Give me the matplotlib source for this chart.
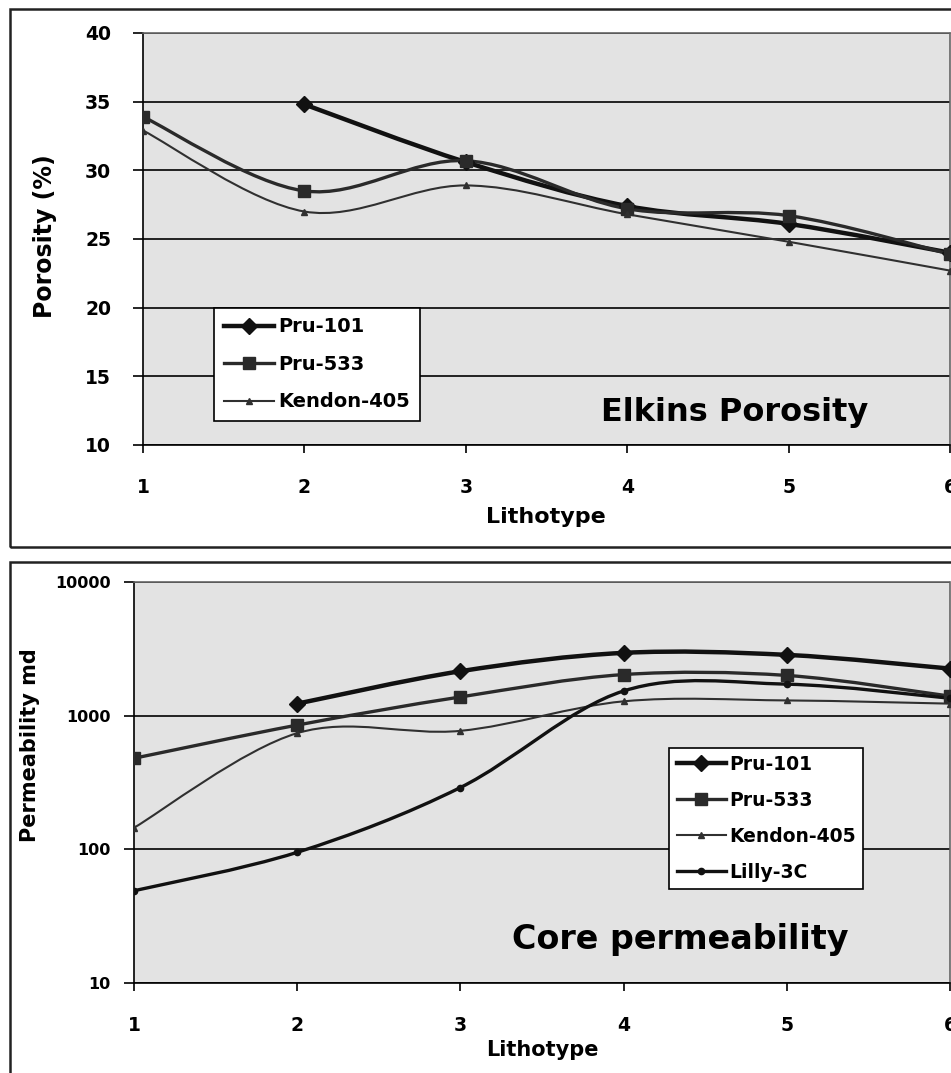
import numpy as np
import matplotlib
matplotlib.use("Agg")
import matplotlib.pyplot as plt
from matplotlib.path import Path
from matplotlib.patches import PathPatch, Rectangle
from matplotlib.lines import Line2D

plt.rcParams['font.family'] = ['DejaVu Sans']
plt.rcParams['font.weight'] = 'bold'

# ---------------- data ----------------
lithotype = [1, 2, 3, 4, 5, 6]

por_pru101_x = [2, 3, 4, 5, 6]
por_pru101 = [34.8, 30.6, 27.4, 26.1, 24.0]
por_pru533_x = [1, 2, 3, 4, 5, 6]
por_pru533 = [33.9, 28.5, 30.7, 27.2, 26.7, 23.9]
por_kendon_x = [1, 2, 3, 4, 5, 6]
por_kendon = [32.9, 27.0, 28.9, 26.8, 24.8, 22.7]

perm_pru101_x = [2, 3, 4, 5, 6]
perm_pru101 = [1230, 2150, 2950, 2850, 2250]
perm_pru533_x = [1, 2, 3, 4, 5, 6]
perm_pru533 = [480, 850, 1380, 2030, 2000, 1400]
perm_kendon_x = [1, 2, 3, 4, 5, 6]
perm_kendon = [145, 740, 770, 1280, 1300, 1230]
perm_lilly_x = [1, 2, 3, 4, 5, 6]
perm_lilly = [49, 95, 290, 1530, 1720, 1350]

por_ticks = [10, 15, 20, 25, 30, 35, 40]
perm_ticks = [10, 100, 1000, 10000]
perm_ticklabels = ["10", "100", "1000", "10000"]

W, H = 951, 1073
fig = plt.figure(figsize=(W / 100, H / 100), dpi=100)


def smooth_path(xs, ys, log=False):
    x = np.asarray(xs, float)
    y = np.asarray(ys, float)
    if log:
        y = np.log10(y)
    pts = np.column_stack([x, y])
    n = len(pts)
    verts = [pts[0]]
    codes = [Path.MOVETO]
    for i in range(n - 1):
        p0 = pts[i - 1] if i > 0 else pts[i]
        p1 = pts[i]
        p2 = pts[i + 1]
        p3 = pts[i + 2] if i + 2 < n else pts[i + 1]
        c1 = p1 + (p2 - p0) / 6.0
        c2 = p2 - (p3 - p1) / 6.0
        verts += [c1, c2, p2]
        codes += [Path.CURVE4] * 3
    verts = np.array(verts)
    if log:
        verts[:, 1] = 10 ** verts[:, 1]
    return Path(verts, codes)


def draw_series(ax, xs, ys, style, log=False):
    ax.add_patch(PathPatch(smooth_path(xs, ys, log), fill=False,
                           edgecolor=style['color'], lw=style['lw'],
                           capstyle='round', joinstyle='round', zorder=3))
    ax.plot(xs, ys, ls='none', marker=style['marker'], ms=style['ms'],
            color=style['color'], mec=style['color'], zorder=4)


styles = {
    'Pru-101': dict(color='#111111', lw=3.2, marker='D', ms=8),
    'Pru-533': dict(color='#2a2a2a', lw=2.4, marker='s', ms=9),
    'Kendon-405': dict(color='#303030', lw=1.5, marker='^', ms=5),
    'Lilly-3C': dict(color='#111111', lw=2.4, marker='o', ms=4.5),
}


def handle(name):
    s = styles[name]
    return Line2D([0], [0], color=s['color'], lw=s['lw'], marker=s['marker'],
                  ms=s['ms'], mec=s['color'])


def style_axes(ax):
    ax.set_facecolor('#e3e3e3')
    ax.grid(axis='y', color='black', lw=1.2, zorder=1)
    ax.set_axisbelow(True)
    for side in ('top', 'right'):
        ax.spines[side].set_color('#666666')
        ax.spines[side].set_linestyle((0, (1, 1)))
        ax.spines[side].set_linewidth(1.2)
    for side in ('left', 'bottom'):
        ax.spines[side].set_color('black')
        ax.spines[side].set_linewidth(1.2)
    ax.tick_params(axis='x', direction='out', length=6, width=1.2, pad=18)
    ax.set_xlim(1, 6)
    ax.set_xticks(lithotype)


# outer frames
fig.add_artist(Rectangle((10 / W, 1 - 547 / H), 960 / W, 538 / H, transform=fig.transFigure,
                         fill=False, edgecolor='#222222', lw=1.8))
fig.add_artist(Rectangle((10 / W, 1 - 1090 / H), 960 / W, 528 / H, transform=fig.transFigure,
                         fill=False, edgecolor='#222222', lw=1.8))

# ---------------- top: porosity ----------------
ax1 = fig.add_axes([143 / W, 1 - 445 / H, 807 / W, 412 / H])
style_axes(ax1)
ax1.tick_params(axis='y', direction='out', length=7, width=1.2, pad=16)
ax1.set_ylim(10, 40)
ax1.set_yticks(por_ticks)
for lab in ax1.get_xticklabels() + ax1.get_yticklabels():
    lab.set_fontsize(13.5)
    lab.set_fontweight('bold')
draw_series(ax1, por_pru101_x, por_pru101, styles['Pru-101'])
draw_series(ax1, por_pru533_x, por_pru533, styles['Pru-533'])
draw_series(ax1, por_kendon_x, por_kendon, styles['Kendon-405'])
leg1 = ax1.legend([handle('Pru-101'), handle('Pru-533'), handle('Kendon-405')],
                  ['Pru-101', 'Pru-533', 'Kendon-405'],
                  loc='lower left', bbox_to_anchor=(0.088, 0.058), borderaxespad=0,
                  fancybox=False, framealpha=1, edgecolor='black',
                  prop=dict(size=14, weight='bold'),
                  handlelength=2.6, handletextpad=0.2, labelspacing=0.95,
                  borderpad=0.5)
leg1.get_frame().set_linewidth(1.2)
leg1.set_zorder(5)
ax1.text(735, H - 413, 'Elkins Porosity', transform=None, fontsize=23, fontweight='bold',
         ha='center', va='center')
fig.text(546 / W, 1 - 517 / H, 'Lithotype', ha='center', va='center', fontsize=16,
         fontweight='bold')
fig.text(45 / W, 1 - 236 / H, 'Porosity (%)', ha='center', va='center', fontsize=17,
         fontweight='bold', rotation=90)

# ---------------- bottom: permeability ----------------
ax2 = fig.add_axes([134 / W, 1 - 983 / H, 816 / W, 401 / H])
style_axes(ax2)
ax2.tick_params(axis='y', direction='out', length=7, width=1.2, pad=10)
ax2.set_yscale('log')
ax2.set_ylim(10, 10000)
ax2.set_yticks(perm_ticks)
ax2.set_yticklabels(perm_ticklabels)
ax2.yaxis.set_minor_locator(matplotlib.ticker.NullLocator())
for lab in ax2.get_xticklabels():
    lab.set_fontsize(13.5)
    lab.set_fontweight('bold')
for lab in ax2.get_yticklabels():
    lab.set_fontsize(11.5)
    lab.set_fontweight('bold')
draw_series(ax2, perm_pru101_x, perm_pru101, styles['Pru-101'], log=True)
draw_series(ax2, perm_pru533_x, perm_pru533, styles['Pru-533'], log=True)
draw_series(ax2, perm_kendon_x, perm_kendon, styles['Kendon-405'], log=True)
draw_series(ax2, perm_lilly_x, perm_lilly, styles['Lilly-3C'], log=True)
leg2 = ax2.legend([handle(n) for n in ['Pru-101', 'Pru-533', 'Kendon-405', 'Lilly-3C']],
                  ['Pru-101', 'Pru-533', 'Kendon-405', 'Lilly-3C'],
                  loc='lower left', bbox_to_anchor=(0.656, 0.234), borderaxespad=0,
                  fancybox=False, framealpha=1, edgecolor='black',
                  prop=dict(size=13.5, weight='bold'),
                  handlelength=2.6, handletextpad=0.2, labelspacing=0.9,
                  borderpad=0.4)
leg2.get_frame().set_linewidth(1.2)
leg2.set_zorder(5)
ax2.text(680, H - 940, 'Core permeability', transform=None, fontsize=24,
         fontweight='bold', ha='center', va='center')
fig.text(542 / W, 1 - 1050 / H, 'Lithotype', ha='center', va='center', fontsize=15,
         fontweight='bold')
fig.text(30 / W, 1 - 745 / H, 'Permeability md', ha='center', va='center', fontsize=15,
         fontweight='bold', rotation=90)

fig.savefig('out.png', dpi=100)
